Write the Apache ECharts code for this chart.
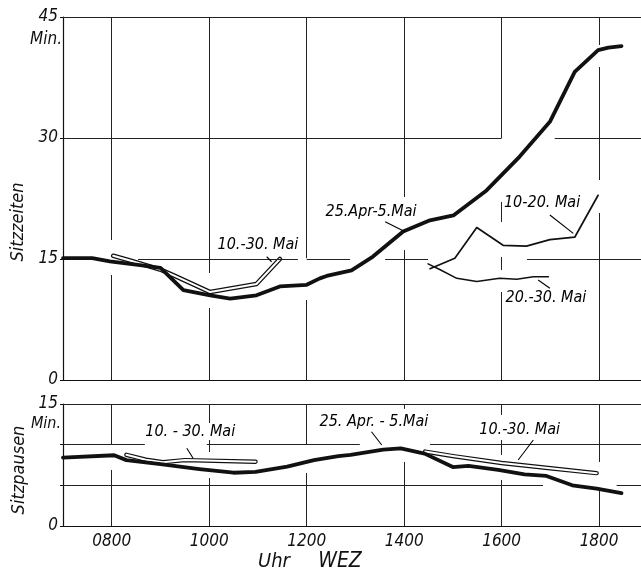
<!DOCTYPE html>
<html><head><meta charset="utf-8">
<script src="https://cdn.jsdelivr.net/npm/echarts@6/dist/echarts.min.js"></script>
<style>html,body{margin:0;padding:0;background:#fff}#c{width:641px;height:569px}</style>
</head><body><div id="c"></div>
<script>
// ---------- DATA ----------
const xTickHours = [8, 10, 12, 14, 16, 18];
const xTickLabels = ['0800', '1000', '1200', '1400', '1600', '1800'];
const topTicks = [0, 15, 30, 45];
const bottomTickLabels = { 0: '0', 15: '15' };

// Sitzzeiten (top panel)
const sitzAprX = [7.0, 7.6, 7.96, 8.58, 9.0, 9.47, 10.02, 10.43, 10.97, 11.45, 12.0, 12.27, 12.41, 12.92, 13.36, 13.98, 14.53, 15.01, 15.69, 16.37, 16.99, 17.5, 17.98, 18.19, 18.46];
const sitzAprY = [15.1, 15.1, 14.7, 14.25, 13.9, 11.15, 10.5, 10.1, 10.5, 11.6, 11.8, 12.6, 12.9, 13.6, 15.3, 18.4, 19.8, 20.4, 23.5, 27.7, 32.0, 38.2, 40.9, 41.2, 41.4];
const sitzMai1030X = [8.03, 8.41, 8.99, 9.26, 10.02, 10.97, 11.45];
const sitzMai1030Y = [15.4, 14.75, 13.7, 13.0, 10.9, 11.9, 15.0];
const sitzMai1020X = [14.53, 15.04, 15.49, 16.03, 16.51, 16.99, 17.5, 17.98];
const sitzMai1020Y = [13.8, 15.1, 18.9, 16.7, 16.6, 17.4, 17.7, 22.9];
const sitzMai2030X = [14.49, 14.73, 15.08, 15.49, 15.96, 16.31, 16.65, 16.96];
const sitzMai2030Y = [14.4, 13.7, 12.6, 12.2, 12.6, 12.5, 12.8, 12.8];

// Sitzpausen (bottom panel)
const pauseAprX = [7.0, 8.05, 8.3, 9.0, 9.8, 10.5, 10.95, 11.6, 12.15, 12.65, 12.9, 13.57, 13.93, 14.42, 15.0, 15.32, 15.93, 16.47, 16.92, 17.45, 17.95, 18.46];
const pauseAprY = [8.4, 8.7, 8.1, 7.6, 7.0, 6.55, 6.65, 7.3, 8.1, 8.6, 8.75, 9.4, 9.55, 8.9, 7.25, 7.4, 6.9, 6.35, 6.15, 5.0, 4.6, 4.05];
const pauseMaiAmX = [8.3, 8.7, 9.05, 9.5, 10.95];
const pauseMaiAmY = [8.75, 8.15, 7.85, 8.1, 7.9];
const pauseMaiPmX = [14.43, 15.0, 16.0, 17.0, 17.95];
const pauseMaiPmY = [9.15, 8.6, 7.75, 7.1, 6.5];

// Annotation texts
const topLabels = ['10.-30. Mai', '25.Apr-5.Mai', '10-20. Mai', '20.-30. Mai'];
const bottomLabels = ['10. - 30. Mai', '25. Apr. - 5.Mai', '10.-30. Mai'];

// ---------- LAYOUT (annotation anchors and broken grid lines, data coordinates) ----------
const topLabelPos = [[11.0, 16.73], [13.32, 20.83], [16.83, 21.94], [16.91, 10.16]];
const topLeaders = [[[11.18, 15.28], [11.28, 14.66]], [[13.61, 19.62], [14.02, 18.38]], [[16.99, 20.45], [17.47, 18.18]], [[16.75, 12.40], [16.99, 11.37]]];
const bottomLabelPos = [[9.61, 11.56], [13.38, 12.79], [16.37, 11.80]];
const bottomLeaders = [[[9.54, 9.55], [9.67, 8.32]], [[13.33, 11.59], [13.54, 9.96]], [[16.65, 10.57], [16.34, 8.12]]];

// vertical grid pieces: hour -> [[yFrom, yTo], ...]
const vGridTop = {
  8: [[45, 17.35], [13.02, 0]],
  10: [[45, 13.26], [8.93, 0]],
  12: [[45, 15.1], [9.92, 0]],
  14: [[45, 22.68], [16.11, 0]],
  16: [[45, 30], [22.07, 19.59], [15.25, 13.64], [10.91, 0]],
  18: [[45, 41.53], [38.8, 24.79], [20.7, 0]]
};
const vGridBottom = {
  8: [[15, 9.96], [6.89, 0]],
  10: [[15, 12.66], [10.57, 9.10], [5.90, 0]],
  12: [[15, 9.96], [6.52, 0]],
  14: [[15, 14.4], [7.87, 0]],
  16: [[15, 13.65], [10.57, 8.73], [5.66, 0]],
  18: [[15, 7.87], [4.67, 0]]
};
// horizontal grid pieces: level -> [[xFrom, xTo], ...]
const X_MIN = 7, X_MAX = 18.86;
const hGridTop = {
  45: [[X_MIN, X_MAX]],
  30: [[X_MIN, 16.0], [17.09, X_MAX]],
  15: [[8.54, 11.82], [12.0, 12.89], [13.61, 14.49], [16.52, X_MAX]]
};
const hGridBottom = {
  15: [[X_MIN, X_MAX]],
  10: [[X_MIN, 8.68], [9.95, 13.09], [14.53, X_MAX]],
  5: [[X_MIN, 16.85], [18.36, X_MAX]]
};

const FONT = '"DejaVu Sans Condensed","DejaVu Sans",sans-serif';
const INK = '#111';
const zip = (xs, ys) => xs.map((x, i) => [x, ys[i]]);

const chart = echarts.init(document.getElementById('c'), null, { renderer: 'canvas' });

function gridSeries(idx, vMap, hMap) {
  const segs = [];
  Object.keys(vMap).forEach(h => vMap[h].forEach(r => segs.push([{ coord: [+h, r[0]] }, { coord: [+h, r[1]] }])));
  Object.keys(hMap).forEach(v => hMap[v].forEach(r => segs.push([{ coord: [r[0], +v] }, { coord: [r[1], +v] }])));
  return {
    type: 'line', xAxisIndex: idx, yAxisIndex: idx, data: [], z: 1, silent: true,
    markLine: {
      silent: true, symbol: ['none', 'none'], label: { show: false }, animation: false,
      lineStyle: { color: '#222', width: 1, type: 'solid' },
      data: segs
    }
  };
}
function lineS(idx, xs, ys, width, color, z) {
  return {
    type: 'line', xAxisIndex: idx, yAxisIndex: idx, data: zip(xs, ys), showSymbol: false, symbol: 'none',
    lineStyle: { color: color, width: width, cap: 'round', join: 'round' }, z: z, silent: true
  };
}
function leaderS(idx, segs) {
  return {
    type: 'lines', coordinateSystem: 'cartesian2d', xAxisIndex: idx, yAxisIndex: idx, z: 8, silent: true,
    lineStyle: { color: '#000', width: 1.1, opacity: 1 },
    data: segs.map(s => ({ coords: s }))
  };
}

const axisTextStyle = { fontFamily: FONT, fontStyle: 'italic', fontSize: 17, color: INK };

const option = {
  animation: false,
  backgroundColor: '#fff',
  grid: [
    { left: 63, top: 17, height: 363, right: 0 },
    { left: 63, top: 404, height: 122, right: 0 }
  ],
  xAxis: [
    { gridIndex: 0, type: 'value', min: X_MIN, max: X_MAX,
      axisLine: { show: true, onZero: false, lineStyle: { color: INK, width: 1.2 } },
      axisTick: { show: false }, axisLabel: { show: false }, splitLine: { show: false } },
    { gridIndex: 1, type: 'value', min: X_MIN, max: X_MAX,
      axisLine: { show: true, onZero: false, lineStyle: { color: INK, width: 1.2 } },
      axisTick: { show: false }, splitLine: { show: false },
      axisLabel: Object.assign({ customValues: xTickHours, margin: 7,
        formatter: v => xTickLabels[xTickHours.indexOf(v)] || '' }, axisTextStyle) }
  ],
  yAxis: [
    { gridIndex: 0, type: 'value', min: 0, max: 45, interval: 15,
      axisLine: { show: true, lineStyle: { color: INK, width: 1.2 } },
      axisTick: { show: true, length: 3, lineStyle: { color: INK } },
      splitLine: { show: false },
      axisLabel: Object.assign({ margin: 5, formatter: v => topTicks.includes(v) ? String(v) : '' }, axisTextStyle) },
    { gridIndex: 1, type: 'value', min: 0, max: 15, interval: 5,
      axisLine: { show: true, lineStyle: { color: INK, width: 1.2 } },
      axisTick: { show: true, length: 3, lineStyle: { color: INK } },
      splitLine: { show: false },
      axisLabel: Object.assign({ margin: 5, formatter: v => bottomTickLabels[v] || '' }, axisTextStyle) }
  ],
  series: [
    gridSeries(0, vGridTop, hGridTop), gridSeries(1, vGridBottom, hGridBottom),
    // top panel
    lineS(0, sitzMai1030X, sitzMai1030Y, 4.6, INK, 2),
    lineS(0, sitzMai1030X, sitzMai1030Y, 2, '#fff', 3),
    lineS(0, sitzMai1020X, sitzMai1020Y, 1.7, INK, 4),
    lineS(0, sitzMai2030X, sitzMai2030Y, 1.5, INK, 4),
    lineS(0, sitzAprX, sitzAprY, 3.8, INK, 5),
    // bottom panel
    lineS(1, pauseMaiAmX, pauseMaiAmY, 4.4, INK, 2),
    lineS(1, pauseMaiAmX, pauseMaiAmY, 2, '#fff', 3),
    lineS(1, pauseMaiPmX, pauseMaiPmY, 4.4, INK, 2),
    lineS(1, pauseMaiPmX, pauseMaiPmY, 2, '#fff', 3),
    lineS(1, pauseAprX, pauseAprY, 3.8, INK, 5),
    // leader lines
    leaderS(0, topLeaders), leaderS(1, bottomLeaders)
  ],
  graphic: [
    { type: 'text', x: 62, y: 40, silent: true,
      style: { text: 'Min.', align: 'right', verticalAlign: 'middle', font: 'italic 17px ' + FONT, fill: INK } },
    { type: 'text', x: 61, y: 424, silent: true,
      style: { text: 'Min.', align: 'right', verticalAlign: 'middle', font: 'italic 16px ' + FONT, fill: INK } },
    { type: 'text', x: 18, y: 222, rotation: Math.PI / 2, silent: true,
      style: { text: 'Sitzzeiten', align: 'center', verticalAlign: 'middle', font: 'italic 18px ' + FONT, fill: INK } },
    { type: 'text', x: 19, y: 470, rotation: Math.PI / 2, silent: true,
      style: { text: 'Sitzpausen', align: 'center', verticalAlign: 'middle', font: 'italic 18px ' + FONT, fill: INK } },
    { type: 'text', x: 274, y: 562, silent: true,
      style: { text: 'Uhr', align: 'center', verticalAlign: 'middle', font: 'italic 20px ' + FONT, fill: INK } },
    { type: 'text', x: 340, y: 562, silent: true,
      style: { text: 'WEZ', align: 'center', verticalAlign: 'middle', font: 'italic 21px ' + FONT, fill: INK } }
  ]
};
chart.setOption(option);

// annotation texts placed at data coordinates through the axes
const annot = [];
topLabels.forEach((t, i) => {
  const p = chart.convertToPixel({ xAxisIndex: 0, yAxisIndex: 0 }, topLabelPos[i]);
  annot.push({ type: 'text', x: p[0], y: p[1], silent: true, z: 100,
    style: { text: t, align: 'center', verticalAlign: 'middle', font: 'italic 16px ' + FONT, fill: '#000' } });
});
bottomLabels.forEach((t, i) => {
  const p = chart.convertToPixel({ xAxisIndex: 1, yAxisIndex: 1 }, bottomLabelPos[i]);
  annot.push({ type: 'text', x: p[0], y: p[1], silent: true, z: 100,
    style: { text: t, align: 'center', verticalAlign: 'middle', font: 'italic 16px ' + FONT, fill: '#000' } });
});
chart.setOption({ graphic: option.graphic.concat(annot) });
</script>
</body></html>
